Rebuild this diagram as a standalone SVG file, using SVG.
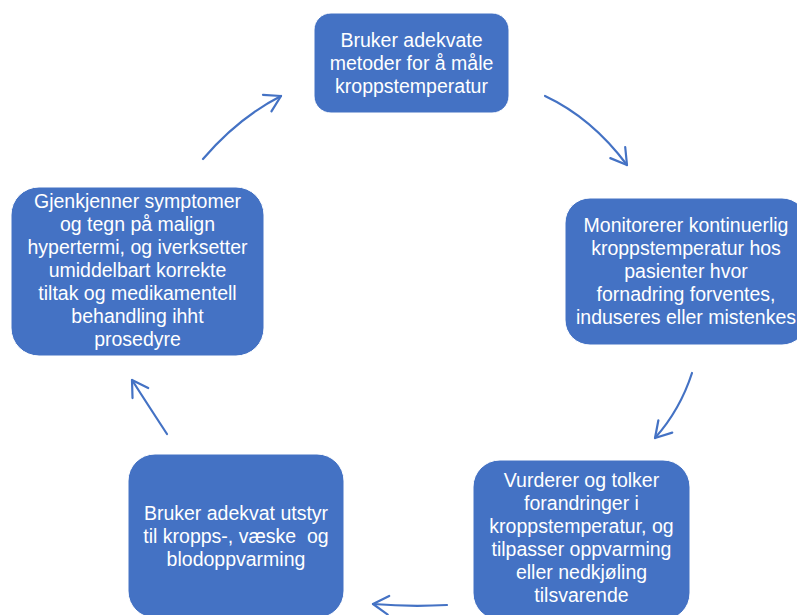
<svg xmlns="http://www.w3.org/2000/svg" width="797" height="615" viewBox="0 0 797 615">
<style>
.box{fill:#4472C4;stroke:#ffffff;stroke-width:1}
.t{font-family:"Liberation Sans",Arial,sans-serif;font-size:19.5px;fill:#ffffff;text-anchor:middle}
.c{fill:none;stroke:#4472C4;stroke-width:2.2;stroke-linecap:round}
</style>
<defs>
<marker id="ah" markerUnits="userSpaceOnUse" markerWidth="40" markerHeight="40" refX="0" refY="0" viewBox="-20 -20 40 40" orient="auto" overflow="visible">
<path d="M-15.5,-9.3 L0,0 L-15.5,9.3" fill="none" stroke="#4472C4" stroke-width="2.2" stroke-linecap="round" stroke-linejoin="round"/>
</marker>
</defs>
<rect width="797" height="615" fill="#ffffff"/>
<g id="connectors">
<path class="c" d="M545,96 Q592,118 627,165" marker-end="url(#ah)"/>
<path class="c" d="M692,373 Q680,410 655,438" marker-end="url(#ah)"/>
<path class="c" d="M447,605 Q410,607 373,604" marker-end="url(#ah)"/>
<path class="c" d="M167,434 Q148,405 132,380" marker-end="url(#ah)"/>
<path class="c" d="M203,159 Q238,118 281,96" marker-end="url(#ah)"/>
</g>
<g id="node1">
<rect class="box" x="314" y="13" width="195" height="100" rx="17"/>
<text class="t" x="411.5"><tspan x="411.5" y="47">Bruker adekvate</tspan><tspan x="411.5" y="70">metoder for å måle</tspan><tspan x="411.5" y="93">kroppstemperatur</tspan></text>
</g>
<g id="node2">
<rect class="box" x="565" y="198" width="242" height="147" rx="25"/>
<text class="t"><tspan x="686" y="232">Monitorerer kontinuerlig</tspan><tspan x="686" y="255">kroppstemperatur hos</tspan><tspan x="686" y="278">pasienter hvor</tspan><tspan x="686" y="301">fornadring forventes,</tspan><tspan x="686" y="324">induseres eller mistenkes</tspan></text>
</g>
<g id="node3">
<rect class="box" x="473" y="460" width="217" height="160" rx="27"/>
<text class="t"><tspan x="581.5" y="487">Vurderer og tolker</tspan><tspan x="581.5" y="510">forandringer i</tspan><tspan x="581.5" y="533">kroppstemperatur, og</tspan><tspan x="581.5" y="556">tilpasser oppvarming</tspan><tspan x="581.5" y="579">eller nedkjøling</tspan><tspan x="581.5" y="602">tilsvarende</tspan></text>
</g>
<g id="node4">
<rect class="box" x="128" y="454" width="216" height="164" rx="27"/>
<text class="t"><tspan x="236" y="520">Bruker adekvat utstyr</tspan><tspan x="236" y="543" xml:space="preserve">til kropps-, væske  og</tspan><tspan x="236" y="566">blodoppvarming</tspan></text>
</g>
<g id="node5">
<rect class="box" x="11" y="187" width="253" height="169" rx="28"/>
<text class="t"><tspan x="137.5" y="208">Gjenkjenner symptomer</tspan><tspan x="137.5" y="231">og tegn på malign</tspan><tspan x="137.5" y="254">hypertermi, og iverksetter</tspan><tspan x="137.5" y="277">umiddelbart korrekte</tspan><tspan x="137.5" y="300">tiltak og medikamentell</tspan><tspan x="137.5" y="323">behandling ihht</tspan><tspan x="137.5" y="346">prosedyre</tspan></text>
</g>
</svg>
